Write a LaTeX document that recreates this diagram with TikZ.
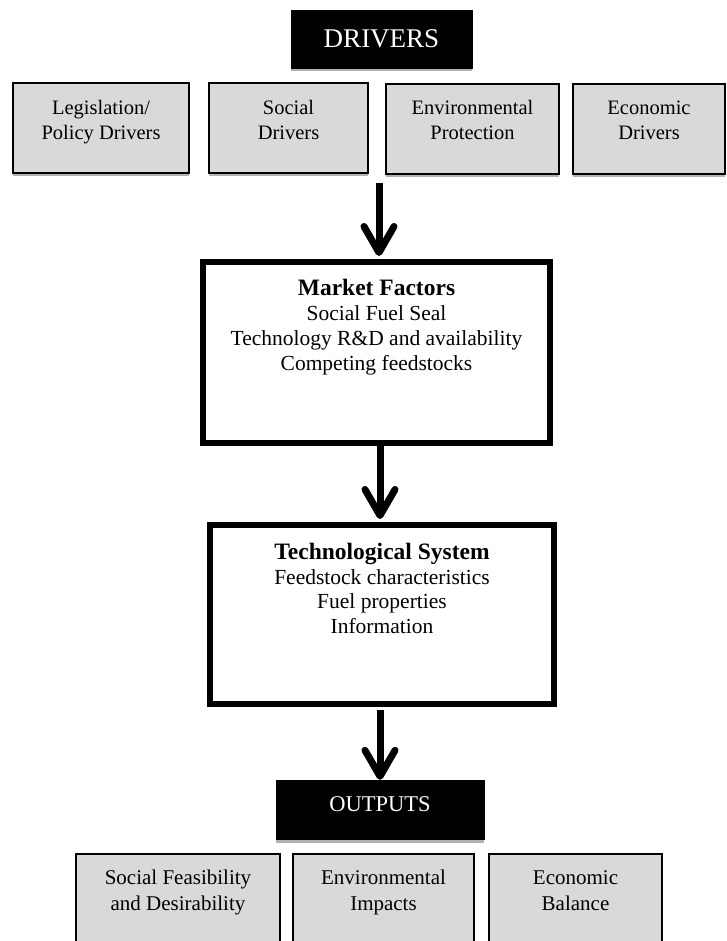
\documentclass[tikz,border=0pt]{standalone}
\usepackage{fontspec}
\setmainfont{Liberation Serif}
\usetikzlibrary{arrows.meta,shadows}
\tikzset{headbox/.style={draw=black, fill=black, text=white, inner sep=0pt,
  drop shadow={shadow xshift=0pt, shadow yshift=-3.5pt, fill=black!30, opacity=1}}}
\tikzset{greybox/.style={draw=black, line width=1.6pt, fill=black!15, inner sep=0pt,
  minimum height=90pt,
  drop shadow={shadow xshift=0pt, shadow yshift=-3pt, fill=black!30, opacity=1}}}
\tikzset{bigbox/.style={draw=black, line width=6pt, fill=white, inner sep=0pt,
  drop shadow={shadow xshift=1pt, shadow yshift=-2pt, fill=black!25, opacity=1}}}
\tikzset{boxtext/.style={align=center, inner sep=0pt, font=\fontsize{20.5}{25}\selectfont}}
\tikzset{bigtext/.style={align=center, inner sep=0pt, font=\fontsize{21.5}{25}\selectfont}}
\tikzset{fatarrow/.style={line width=7pt, shorten >=3pt,
  -{Straight Barb[length=26pt, width=30pt, round]}}}

\begin{document}
\begin{tikzpicture}[x=1pt, y=-1pt]

\useasboundingbox (0,0) rectangle (726,941);
\clip (0,0) rectangle (726,941);

\node [headbox, minimum width=181pt, minimum height=58pt,
  font=\fontsize{27}{30}\selectfont] (drivers) at (381.5,39) {DRIVERS};

\node [greybox, minimum width=176pt] (legis) at (101,128) {};
\node [greybox, minimum width=159pt] (social) at (288.5,128) {};
\node [greybox, minimum width=173pt] (envpro) at (472.5,129) {};
\node [greybox, minimum width=152pt] (econ) at (649,129) {};
\node [boxtext, anchor=base] (legist) at (101,140) {Legislation/\\Policy Drivers};
\node [boxtext, anchor=base] (socialt) at (288.5,140) {Social\\Drivers};
\node [boxtext, anchor=base] (envprot) at (472.5,140) {Environmental\\Protection};
\node [boxtext, anchor=base] (econt) at (649,140) {Economic\\Drivers};

\node [bigbox, minimum width=347pt, minimum height=181pt] (market) at (376.5,352.5) {};
\node [bigtext, anchor=base] (markett) at (376.5,370)
  {{\fontsize{23.5}{25}\selectfont\bfseries Market Factors}\\Social Fuel Seal\\
   Technology R\&D and availability\\Competing feedstocks};

\node [bigbox, minimum width=344pt, minimum height=179pt] (techsys) at (382,614.5) {};
\node [bigtext, anchor=base, font=\fontsize{21.5}{24.5}\selectfont] (techsyst) at (382,633)
  {{\fontsize{23.5}{24.5}\selectfont\bfseries Technological System}\\Feedstock characteristics\\
   Fuel properties\\Information};

\node [headbox, minimum width=208pt, minimum height=59pt, text depth=10pt,
  font=\fontsize{22.5}{26}\selectfont] (outputs) at (380,809.5) {OUTPUTS};

\node [greybox, minimum width=204pt, minimum height=110pt] (socfeas) at (178,909) {};
\node [greybox, minimum width=181pt, minimum height=110pt] (envimp) at (383.5,909) {};
\node [greybox, minimum width=173pt, minimum height=110pt] (ecobal) at (575.5,909) {};
\node [boxtext, anchor=base, font=\fontsize{21}{26}\selectfont] (socfeast) at (178,910)
  {Social Feasibility\\and Desirability};
\node [boxtext, anchor=base, font=\fontsize{21}{26}\selectfont] (envimpt) at (383.5,910)
  {Environmental\\Impacts};
\node [boxtext, anchor=base, font=\fontsize{21}{26}\selectfont] (ecobalt) at (575.5,910)
  {Economic\\Balance};

\coordinate (dstart) at (379,183);
\draw [fatarrow] (dstart) -- (dstart |- market.north);
\draw [fatarrow, shorten <=3pt] (380,443) coordinate (mfoot) -- (mfoot |- techsys.north);
\draw [fatarrow, shorten <=3pt, shorten >=0pt] (outputs.north |- techsys.south) -- (outputs.north);

\end{tikzpicture}
\end{document}
